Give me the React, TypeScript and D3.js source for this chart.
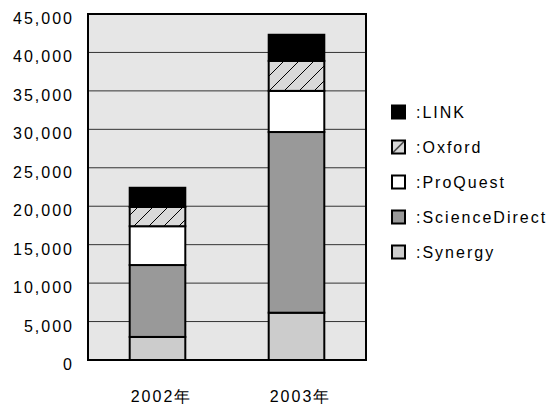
import * as React from 'react';
import * as d3 from 'd3';

const years = ['2002年', '2003年'];
const seriesNames = ['Synergy', 'ScienceDirect', 'ProQuest', 'Oxford', 'LINK'];
const synergy = [3000, 6150];
const scienceDirect = [9350, 23500];
const proQuest = [5050, 5350];
const oxford = [2500, 3900];
const link = [2500, 3400];
const yTicks = [0, 5000, 10000, 15000, 20000, 25000, 30000, 35000, 40000, 45000];

const fills: { [k: string]: string } = {
  Synergy: '#cccccc',
  ScienceDirect: '#999999',
  ProQuest: '#ffffff',
  Oxford: 'url(#hatch)',
  LINK: '#000000',
};

const width = 550;
const height = 404;
const left = 88;
const right = 366;
const top = 14;
const bottom = 360;
const font = '"Liberation Sans", Arial, Helvetica, sans-serif';

export default function App() {
  const rows = years.map((year, i) => ({
    year,
    Synergy: synergy[i],
    ScienceDirect: scienceDirect[i],
    ProQuest: proQuest[i],
    Oxford: oxford[i],
    LINK: link[i],
  }));
  const stacked = d3.stack<any>().keys(seriesNames)(rows);

  const x = d3.scaleBand().domain(years).range([left, right]).paddingInner(0.6).paddingOuter(0.3);
  const y = d3.scaleLinear().domain([0, 45000]).range([bottom, top]);
  const fmt = d3.format(',');

  const legendOrder = [...seriesNames].reverse();

  return (
    <svg width={width} height={height} style={{ position: 'absolute', left: 0, top: 0 }}>
      <defs>
        <pattern id="hatch" patternUnits="userSpaceOnUse" width={15} height={15}>
          <rect width={15} height={15} fill="#d9d9d9" />
          <path d="M0,15 L15,0 M-4,4 L4,-4 M11,19 L19,11" stroke="#000" strokeWidth={1} />
        </pattern>
        <pattern id="hatchLegend" patternContentUnits="objectBoundingBox" width={1} height={1}>
          <rect width={1} height={1} fill="#d9d9d9" />
          <path d="M0,1 L1,0" stroke="#000" strokeWidth={0.08} />
        </pattern>
      </defs>
      <rect x={left} y={top} width={right - left} height={bottom - top} fill="#e6e6e6" />
      {yTicks.slice(1, -1).map((t) => (
        <line key={t} x1={left} x2={right} y1={y(t)} y2={y(t)} stroke="#333" strokeWidth={1} />
      ))}
      {stacked.map((s) =>
        s.map((d, i) => (
          <rect
            key={s.key + i}
            x={x(years[i])}
            y={y(d[1])}
            width={x.bandwidth()}
            height={y(d[0]) - y(d[1])}
            fill={fills[s.key]}
            stroke="#000"
            strokeWidth={2}
          />
        ))
      )}
      <rect x={left} y={top} width={right - left} height={bottom - top} fill="none" stroke="#000" strokeWidth={2} />
      {yTicks.map((t) => (
        <text
          key={t}
          x={74}
          y={y(t) + 10}
          textAnchor="end"
          fontFamily={font}
          fontSize={16}
          letterSpacing={2}
          fill="#000"
        >
          {fmt(t)}
        </text>
      ))}
      {years.map((yr) => (
        <text
          key={yr}
          x={(x(yr) as number) + x.bandwidth() / 2 + 4}
          y={402}
          textAnchor="middle"
          fontFamily={font}
          fontSize={16}
          letterSpacing={2}
          fill="#000"
        >
          {yr}
        </text>
      ))}
      {legendOrder.map((name, i) => {
        const cy = 112 + i * 35;
        return (
          <g key={name}>
            <rect
              x={392}
              y={cy - 6.5}
              width={13}
              height={13}
              fill={name === 'Oxford' ? 'url(#hatchLegend)' : fills[name]}
              stroke="#000"
              strokeWidth={2}
            />
            <text x={416} y={cy + 6} fontFamily={font} fontSize={16} letterSpacing={2} fill="#000">
              {':' + name}
            </text>
          </g>
        );
      })}
    </svg>
  );
}
